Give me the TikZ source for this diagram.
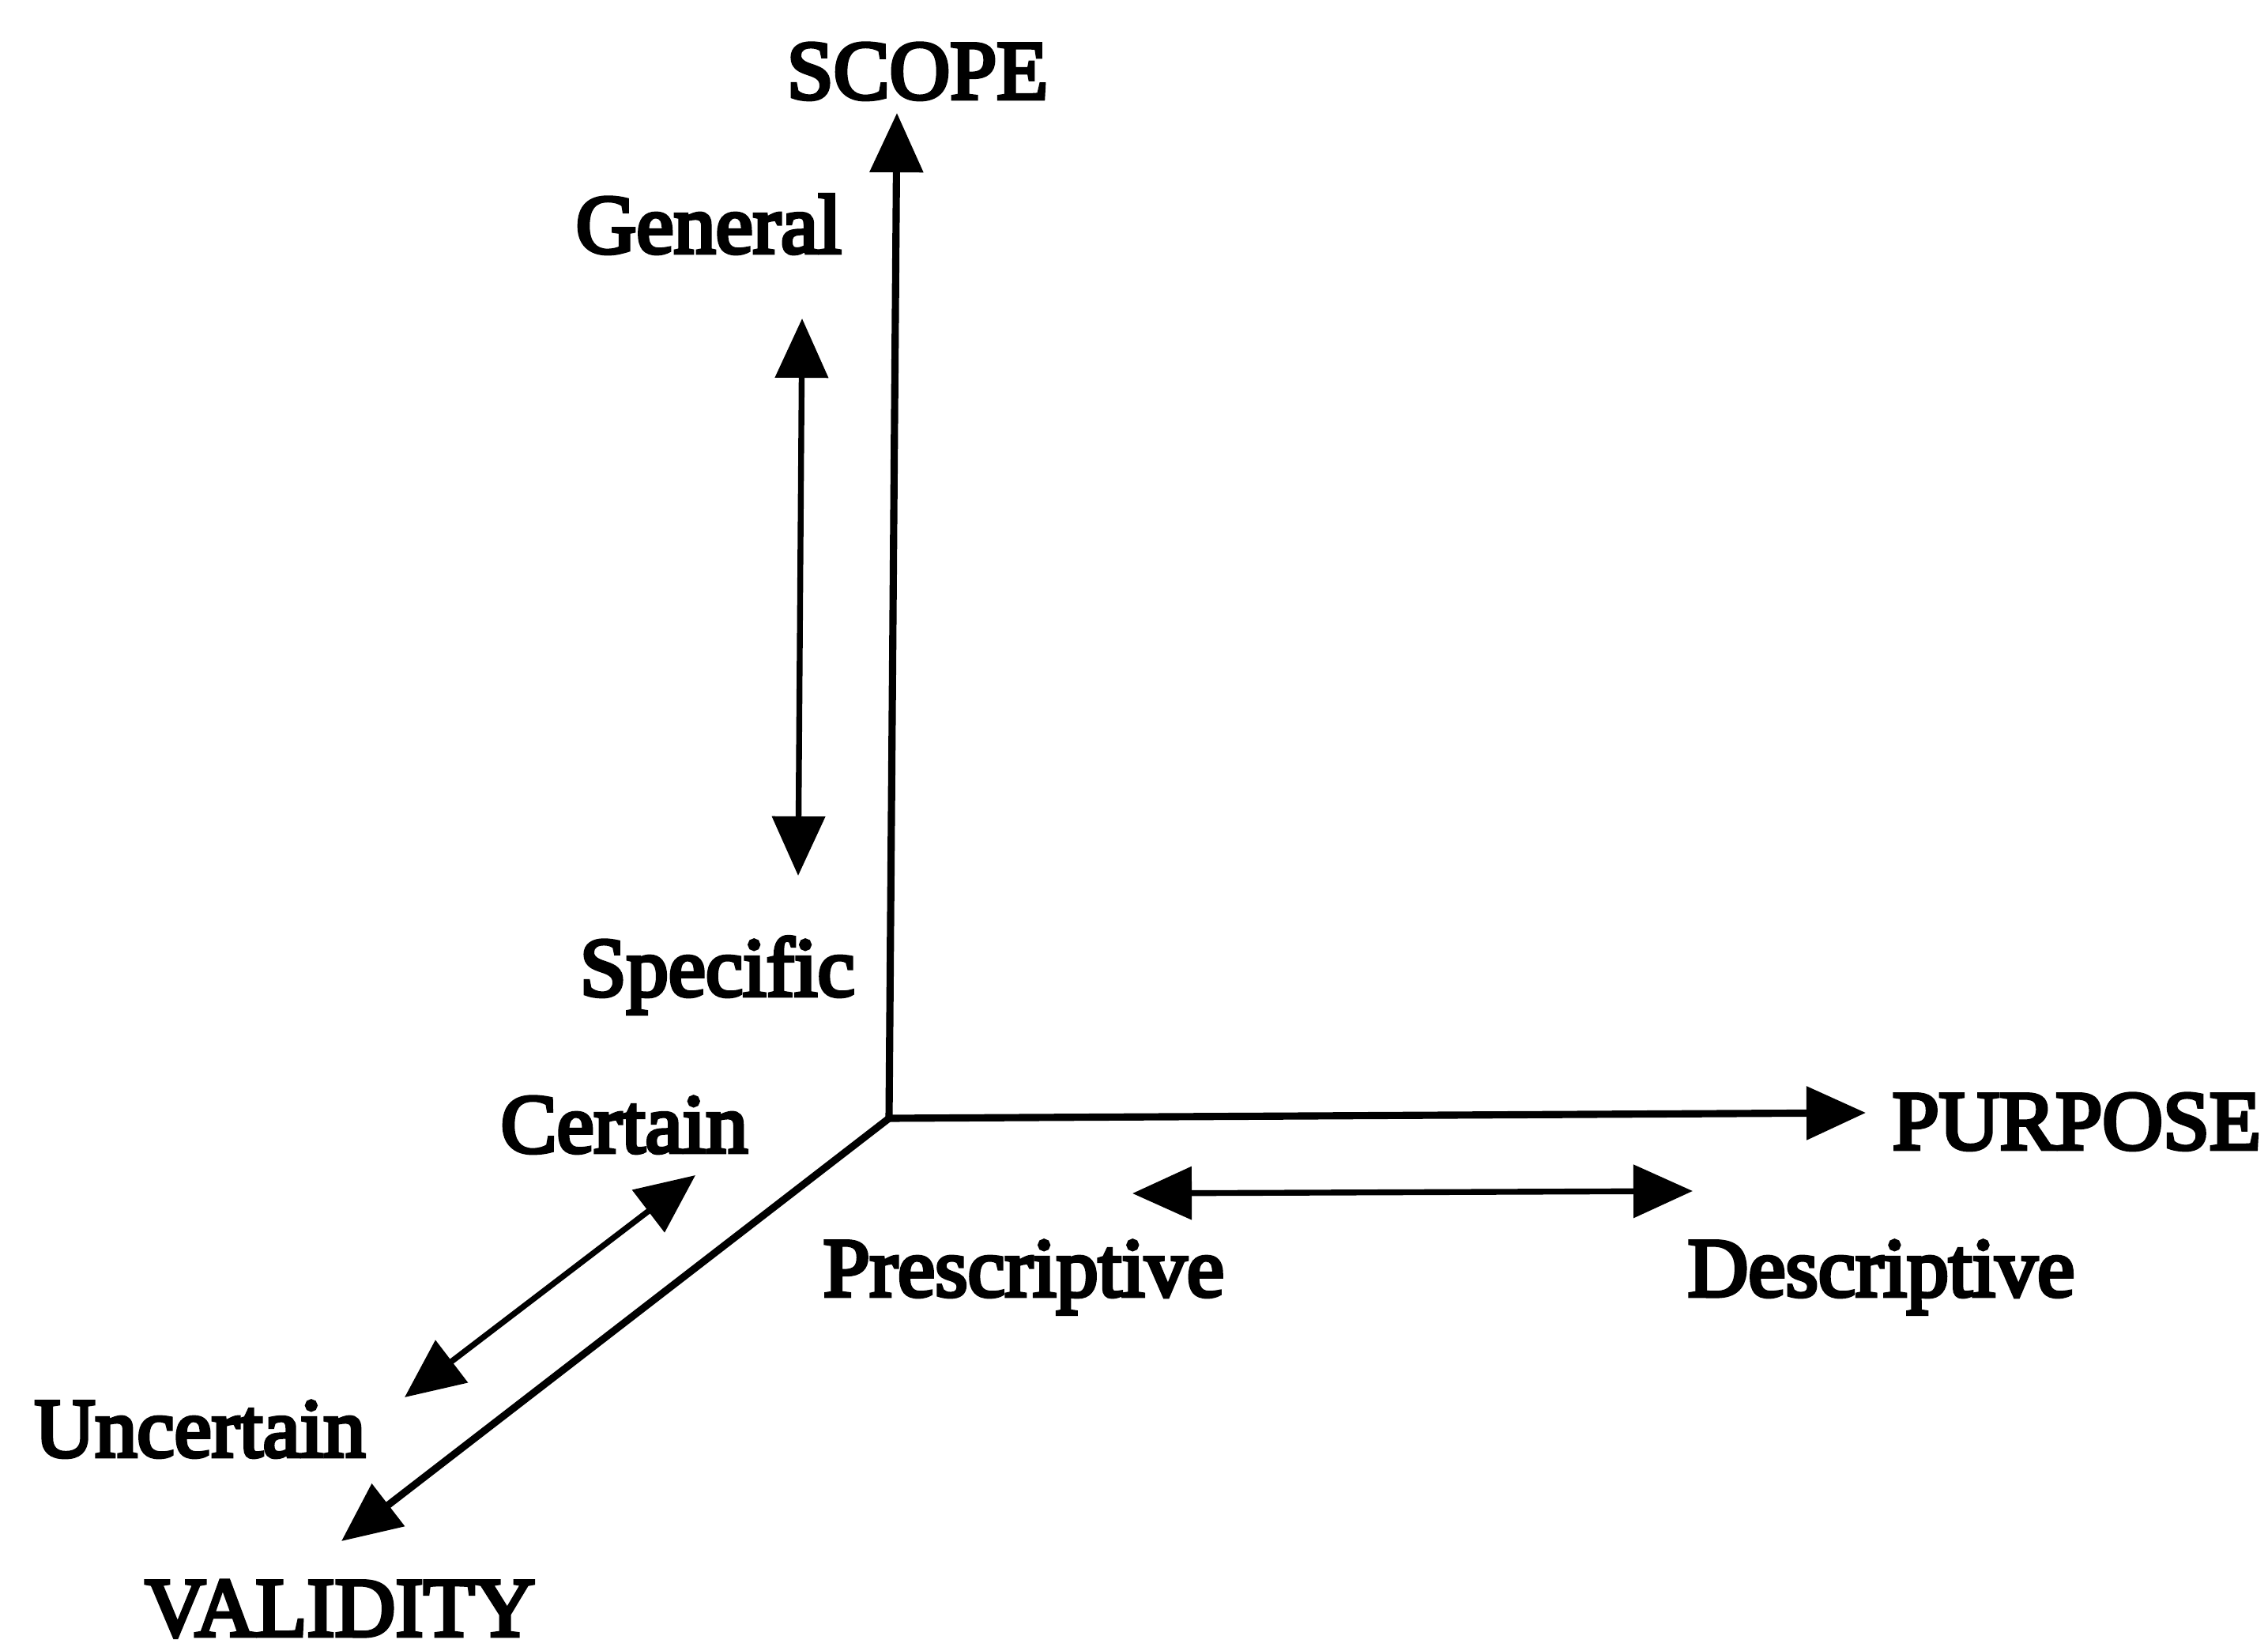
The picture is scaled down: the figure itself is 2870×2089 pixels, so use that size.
\documentclass[tikz,border=0pt]{standalone}
\usepackage{fontspec}
\setmainfont{Liberation Serif}
\newfontfamily\labelfont{Liberation Serif}[FakeBold=4.5]
\usetikzlibrary{arrows.meta}

\begin{document}
\begin{tikzpicture}[x=0.01cm, y=-0.01cm,
  axisline/.style={line width=2.6pt, -{Triangle[length=0.75cm, width=0.66cm]}},
  spanarrow/.style={line width=2.1pt, {Triangle[length=0.75cm, width=0.66cm]}-{Triangle[length=0.75cm, width=0.66cm]}},
  lbl/.style={inner sep=0pt, anchor=base west, font=\labelfont\fontsize{30.2pt}{36pt}\selectfont}]
  % page frame
  \useasboundingbox (0,0) rectangle (2870,2089);

  % axes meet here
  \coordinate (O) at (1125,1415);
  \coordinate (scopeTip) at (1135,143);
  \coordinate (purposeTip) at (2361,1408);
  \coordinate (validityTip) at (432,1950);

  % ends of the span arrows
  \coordinate (genEnd) at (1015,403);
  \coordinate (speEnd) at (1010,1108);
  \coordinate (preEnd) at (1433,1510);
  \coordinate (desEnd) at (2142,1507);
  \coordinate (cerEnd) at (880,1487);
  \coordinate (uncEnd) at (512,1768);

  % axes
  \draw[axisline] (O) -- (scopeTip);
  \draw[axisline] (O) -- (purposeTip);
  \draw[axisline] (O) -- (validityTip);

  % spans along each axis
  \draw[spanarrow] (speEnd) -- (genEnd);
  \draw[spanarrow] (preEnd) -- (desEnd);
  \draw[spanarrow] (uncEnd) -- (cerEnd);

  % axis names
  \node[lbl] (scope) at (995,125) {SCOPE};
  \node[lbl] (purpose) at (2394,1454) {PURPOSE};
  \node[lbl] (validity) at (183,2070) {VALIDITY};

  % span ends
  \node[lbl] (general) at (728,320) {General};
  \node[lbl] (specific) at (733,1260) {Specific};
  \node[lbl] (certain) at (633,1458) {Certain};
  \node[lbl] (uncertain) at (43,1843) {Uncertain};
  \node[lbl] (prescriptive) at (1041,1640) {Prescriptive};
  \node[lbl] (descriptive) at (2135,1640) {Descriptive};
\end{tikzpicture}
\end{document}
